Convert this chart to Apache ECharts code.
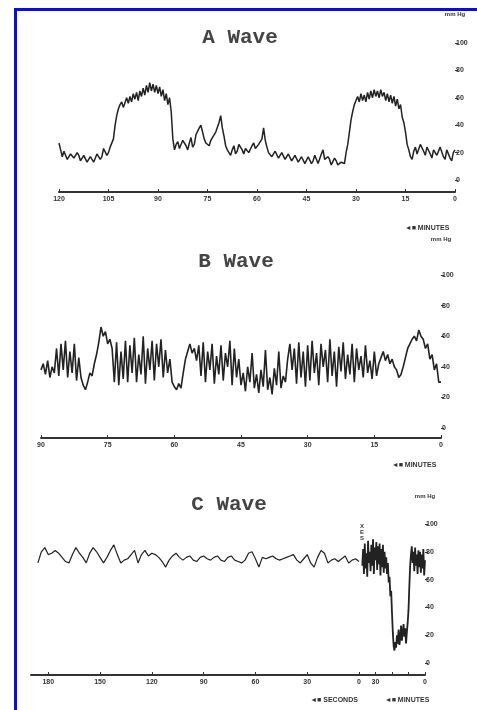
<!DOCTYPE html>
<html>
<head>
<meta charset="utf-8">
<script src="https://cdn.jsdelivr.net/npm/echarts@6/dist/echarts.min.js"></script>
<style>
  html, body { margin: 0; padding: 0; background: #fff; }
  #chart { width: 477px; height: 710px; }
</style>
</head>
<body>
<div id="chart"></div>
<script>
// A wave: every half minute, 120 -> 0 min
var aStart = 120, aStep = 0.5;
var aValues = [27, 22, 17, 21, 20, 15, 14, 19, 19, 16,
  15, 20, 18, 14, 13, 18, 17, 13, 12, 17,
  16, 13, 14, 19, 19, 15, 17, 23, 22, 18,
  20, 24, 24, 30, 40, 47, 52, 55, 57, 53,
  53, 60, 56, 61, 57, 63, 59, 64, 58, 65,
  61, 67, 62, 69, 64, 71, 65, 70, 64, 69,
  63, 68, 61, 66, 58, 63, 55, 60, 50, 30,
  22, 26, 28, 23, 24, 29, 30, 25, 22, 27,
  31, 24, 26, 33, 34, 38, 40, 35, 30, 27,
  27, 25, 29, 31, 32, 35, 36, 42, 47, 38,
  32, 25, 22, 20, 18, 22, 25, 19, 21, 26,
  26, 22, 19, 23, 24, 20, 20, 25, 27, 23,
  22, 26, 25, 30, 38, 29, 24, 20, 20, 17,
  18, 21, 21, 16, 17, 20, 19, 15, 16, 19,
  18, 14, 15, 18, 17, 13, 14, 17, 16, 12,
  13, 17, 16, 12, 14, 18, 17, 12, 13, 19,
  22, 15, 14, 17, 15, 11, 12, 16, 14, 11,
  10, 13, 14, 12, 20, 26, 35, 44, 50, 55,
  55, 61, 57, 63, 58, 62, 57, 64, 59, 65,
  60, 66, 61, 65, 60, 66, 61, 64, 58, 63,
  57, 62, 56, 61, 54, 59, 52, 55, 46, 42,
  35, 26, 22, 17, 15, 21, 24, 19, 20, 26,
  27, 21, 18, 24, 25, 19, 16, 22, 23, 18,
  19, 24, 24, 17, 15, 22, 21, 16, 14, 20,
  22];

// B wave: every half minute, 90 -> 0 min
var bStart = 90, bStep = 0.5;
var bValues = [38, 42, 35, 44, 33, 40, 36, 52, 34, 55,
  38, 57, 33, 50, 36, 55, 31, 46, 33, 28,
  25, 30, 36, 34, 42, 48, 56, 66, 60, 63,
  55, 58, 52, 30, 56, 28, 50, 32, 57, 30,
  54, 36, 59, 30, 48, 35, 60, 29, 52, 38,
  57, 31, 55, 40, 58, 33, 51, 36, 45, 30,
  27, 25, 29, 26, 36, 45, 50, 55, 49, 52,
  44, 54, 34, 56, 30, 50, 38, 55, 29, 47,
  35, 54, 31, 49, 40, 57, 28, 52, 33, 45,
  28, 36, 24, 40, 30, 49, 26, 35, 23, 38,
  27, 51, 25, 33, 22, 39, 28, 50, 26, 34,
  30, 45, 55, 38, 52, 29, 56, 33, 50, 27,
  54, 31, 57, 36, 49, 28, 55, 40, 51, 30,
  58, 34, 50, 27, 53, 37, 56, 32, 48, 35,
  55, 30, 52, 38, 47, 33, 54, 36, 44, 32,
  50, 34, 42, 46, 50, 44, 48, 42, 45, 40,
  38, 33, 35, 40, 46, 52, 55, 58, 60, 57,
  64, 60, 58, 52, 55, 45, 48, 38, 42, 30,
  30];

// C wave, left part in seconds (every 2 s, 186 -> 0 s)
var cSecStart = 186, cSecStep = 2;
var cSecValues = [72, 80, 83, 78, 79, 81, 79, 76, 73, 72,
  78, 83, 79, 76, 72, 79, 83, 80, 76, 72,
  76, 81, 85, 78, 72, 74, 75, 78, 81, 72,
  78, 81, 77, 79, 78, 76, 73, 69, 74, 77,
  79, 76, 74, 76, 77, 74, 73, 76, 77, 75,
  74, 76, 77, 74, 73, 76, 77, 74, 73, 72,
  74, 79, 80, 75, 69, 76, 75, 76, 77, 75,
  74, 75, 76, 77, 78, 74, 72, 75, 78, 72,
  69, 76, 81, 79, 72, 74, 75, 73, 75, 77,
  72, 74, 75, 73];

// C wave, right part in minutes (every half minute, 38 -> 0 min)
var cMinStart = 38, cMinStep = 0.5;
var cMinValues = [70, 82, 64, 86, 68, 79, 62, 88, 72, 80,
  66, 85, 70, 89, 64, 83, 74, 87, 67, 84,
  71, 86, 63, 82, 69, 85, 65, 80, 68, 76,
  64, 72, 58, 62, 48, 52, 36, 22, 12, 9,
  15, 11, 20, 14, 24, 13, 18, 27, 16, 22,
  28, 19, 25, 14, 22, 29, 38, 55, 70, 78,
  84, 72, 80, 66, 83, 70, 78, 64, 81, 69,
  80, 65, 78, 68, 82, 63, 74];

function toPairs(start, step, vals) {
  return vals.map(function (v, i) { return [start - i * step, v]; });
}

var ink = '#222';
var labelFont = { color: '#333', fontSize: 7, fontWeight: 'bold', fontFamily: 'Liberation Sans Narrow, Liberation Sans, sans-serif' };

function xAx(grid, max, interval, offset, hideMax, fmt) {
  return {
    type: 'value', gridIndex: grid, min: 0, max: max, interval: interval, inverse: true,
    offset: offset,
    axisLine: { show: true, onZero: false, lineStyle: { color: '#333', width: 2 } },
    axisTick: { show: true, inside: true, length: 3, lineStyle: { color: '#333' } },
    splitLine: { show: false },
    axisLabel: Object.assign({ margin: 4, showMaxLabel: !hideMax, formatter: fmt }, labelFont)
  };
}
function yAx(grid, show, nameGap) {
  return {
    type: 'value', gridIndex: grid, position: 'right', min: 0, max: 100, interval: 20,
    show: show,
    name: 'mm Hg', nameLocation: 'end', nameGap: nameGap,
    nameTextStyle: { color: '#333', fontSize: 6, fontWeight: 'bold', align: 'center' },
    axisLine: { show: false },
    axisTick: { show: true, length: 3, lineStyle: { color: '#333' } },
    splitLine: { show: false },
    axisLabel: Object.assign({ margin: 1 }, labelFont)
  };
}
function wave(ix, data, w) {
  return {
    type: 'line', xAxisIndex: ix, yAxisIndex: ix, data: data,
    showSymbol: false, symbol: 'none', animation: false,
    lineStyle: { color: ink, width: w }
  };
}
function txt(x, y, s, size, extra) {
  return {
    type: 'text', x: x, y: y, silent: true,
    style: Object.assign({
      text: s, fill: '#333', fontSize: size, textAlign: 'center', textVerticalAlign: 'middle',
      fontFamily: 'Liberation Sans Narrow, Liberation Sans, sans-serif', fontWeight: 'bold'
    }, extra || {})
  };
}
var titleStyle = { fontFamily: 'Liberation Mono, DejaVu Sans Mono, monospace', fontWeight: 'bold', fill: '#444' };

var chart = echarts.init(document.getElementById('chart'));
chart.setOption({
  backgroundColor: '#fff',
  animation: false,
  grid: [
    { left: 59, top: 43, width: 396, height: 137 },
    { left: 41, top: 275, width: 400, height: 153 },
    { left: 31, top: 524, width: 328, height: 139 },
    { left: 359, top: 524, width: 66, height: 139 }
  ],
  xAxis: [
    xAx(0, 120, 15, 12, false),
    xAx(1, 90, 15, 10, false),
    xAx(2, 190, 30, 12, true),
    xAx(3, 40, 10, 12, true, function (v) { return (v === 30 || v === 0) ? String(v) : ''; })
  ],
  yAxis: [
    yAx(0, true, 26),
    yAx(1, true, 33),
    yAx(2, false, 20),
    yAx(3, true, 25)
  ],
  series: [
    wave(0, toPairs(aStart, aStep, aValues), 1.5),
    wave(1, toPairs(bStart, bStep, bValues), 1.6),
    wave(2, toPairs(cSecStart, cSecStep, cSecValues), 1.2),
    wave(3, toPairs(cMinStart, cMinStep, cMinValues), 1.8)
  ],
  graphic: [
    { type: 'rect', shape: { x: 14, y: 8, width: 3, height: 702 }, style: { fill: '#0a0af0' }, silent: true },
    { type: 'rect', shape: { x: 14, y: 8, width: 463, height: 3 }, style: { fill: '#0a0af0' }, silent: true },
    txt(240, 38, 'A Wave', 21, titleStyle),
    txt(236, 262, 'B Wave', 21, titleStyle),
    txt(229, 505, 'C Wave', 21, titleStyle),
    txt(427, 228, '\u25C4\u25A0 MINUTES', 7),
    txt(414, 465, '\u25C4\u25A0 MINUTES', 7),
    txt(334, 700, '\u25C4\u25A0 SECONDS', 7),
    txt(407, 700, '\u25C4\u25A0 MINUTES', 7),
    txt(362, 532, 'X\nE\nS', 6, { lineHeight: 6 })
  ]
});
</script>
</body>
</html>
